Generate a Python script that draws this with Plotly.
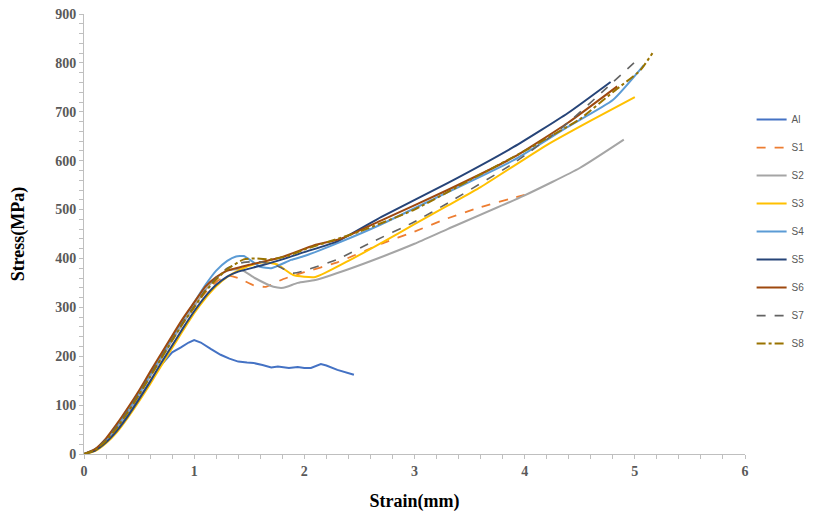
import plotly.graph_objects as go

names = ["Al", "S1", "S2", "S3", "S4", "S5", "S6", "S7", "S8"]
colors = ["#4472C4", "#ED7D31", "#A5A5A5", "#FFC000", "#5B9BD5", "#264478", "#9E480E", "#636363", "#997300"]
dashes = ["solid", "dash", "solid", "solid", "solid", "solid", "solid", "dash", "dashdot"]
widths = [2, 1.8, 2, 2, 2, 2, 2, 1.6, 2]

al_x = [0, 0.1, 0.2, 0.3, 0.4, 0.5, 0.6, 0.7, 0.8, 0.88, 0.95, 1.0, 1.06, 1.15, 1.24, 1.32, 1.40, 1.48, 1.54, 1.62, 1.70, 1.76, 1.81, 1.86, 1.94, 2.0, 2.06, 2.15, 2.2, 2.3, 2.45]
al_y = [0, 8, 26, 50, 80, 113, 148, 182, 208, 218, 228, 233, 228, 215, 203, 195, 189, 187, 186, 182, 177, 179, 178, 176, 178, 176, 176, 184, 181, 172, 162]

s1_x = [0, 0.1, 0.2, 0.3, 0.4, 0.5, 0.6, 0.7, 0.8, 0.9, 1.0, 1.1, 1.2, 1.3, 1.4, 1.54, 1.65, 1.81, 2.0, 2.3, 2.7, 3.0, 3.3, 3.6, 4.0]
s1_y = [0, 9, 28, 55, 87, 122, 160, 197, 233, 268, 300, 330, 352, 365, 360, 345, 342, 358, 372, 392, 430, 455, 482, 505, 530]

s2_x = [0, 0.1, 0.2, 0.3, 0.4, 0.5, 0.6, 0.7, 0.8, 0.9, 1.0, 1.1, 1.2, 1.3, 1.42, 1.55, 1.72, 1.81, 1.94, 2.1, 2.4, 2.7, 3.0, 3.3, 3.99, 4.5, 4.9]
s2_y = [0, 8, 27, 54, 86, 121, 158, 195, 232, 268, 302, 335, 360, 375, 378, 360, 342, 340, 350, 356, 378, 403, 430, 460, 528, 585, 643]

s3_x = [0, 0.1, 0.2, 0.3, 0.4, 0.5, 0.6, 0.7, 0.8, 0.9, 1.0, 1.1, 1.2, 1.3, 1.4, 1.5, 1.63, 1.75, 1.9, 2.1, 2.4, 2.7, 3.0, 3.3, 3.6, 4.2, 4.6, 5.0]
s3_y = [0, 6, 22, 45, 75, 108, 143, 180, 217, 253, 288, 318, 343, 362, 375, 385, 392, 388, 366, 362, 395, 432, 470, 508, 546, 632, 682, 730]

s4_x = [0, 0.1, 0.2, 0.3, 0.4, 0.5, 0.6, 0.7, 0.8, 0.9, 1.0, 1.1, 1.2, 1.3, 1.38, 1.45, 1.52, 1.6, 1.7, 1.88, 2.0, 2.33, 2.7, 3.15, 3.9, 4.39, 4.8, 5.08]
s4_y = [0, 10, 30, 58, 90, 125, 162, 200, 238, 275, 310, 345, 375, 395, 404, 405, 395, 383, 380, 397, 405, 434, 470, 519, 601, 669, 724, 795]

s5_x = [0, 0.1, 0.2, 0.3, 0.4, 0.5, 0.6, 0.7, 0.8, 0.9, 1.0, 1.1, 1.2, 1.3, 1.4, 1.6, 1.8, 2.0, 2.3, 2.7, 3.3, 3.9, 4.39, 4.78]
s5_y = [0, 7, 24, 48, 78, 112, 148, 186, 222, 258, 292, 322, 346, 363, 373, 385, 398, 413, 435, 485, 554, 628, 697, 761]

s6_x = [0, 0.1, 0.2, 0.3, 0.4, 0.5, 0.6, 0.7, 0.8, 0.9, 1.0, 1.1, 1.2, 1.3, 1.5, 1.8, 2.09, 2.33, 2.7, 3.3, 3.9, 4.39, 4.84]
s6_y = [0, 10, 32, 62, 95, 130, 168, 205, 242, 278, 310, 342, 362, 375, 387, 403, 427, 440, 478, 540, 607, 677, 752]

s7_x = [0, 0.1, 0.2, 0.3, 0.4, 0.5, 0.6, 0.7, 0.8, 0.9, 1.0, 1.1, 1.2, 1.3, 1.45, 1.6, 1.75, 1.9, 2.0, 2.3, 2.6, 3.0, 3.3, 3.9, 4.35, 4.75, 5.02]
s7_y = [0, 9, 30, 58, 90, 125, 162, 198, 235, 270, 303, 335, 360, 380, 392, 393, 385, 370, 375, 398, 432, 475, 513, 595, 669, 750, 806]

s8_x = [0, 0.1, 0.2, 0.3, 0.4, 0.5, 0.6, 0.7, 0.8, 0.9, 1.0, 1.1, 1.2, 1.3, 1.45, 1.55, 1.7, 1.85, 2.0, 2.5, 3.0, 3.5, 4.0, 4.5, 4.8, 5.05, 5.16]
s8_y = [0, 8, 27, 54, 86, 121, 158, 195, 232, 268, 300, 332, 357, 378, 398, 400, 398, 405, 418, 455, 500, 560, 620, 685, 740, 785, 820]

xs = [al_x, s1_x, s2_x, s3_x, s4_x, s5_x, s6_x, s7_x, s8_x]
ys = [al_y, s1_y, s2_y, s3_y, s4_y, s5_y, s6_y, s7_y, s8_y]

x_ticks = [0, 1, 2, 3, 4, 5, 6]
y_ticks = [0, 100, 200, 300, 400, 500, 600, 700, 800, 900]

fig = go.Figure()
for i, n in enumerate(names):
    fig.add_trace(go.Scatter(
        x=xs[i], y=ys[i], name=n, mode="lines", legendgroup=n,
        line=dict(color=colors[i], width=widths[i], dash=dashes[i],
                  shape="spline" if i > 0 else "linear", smoothing=0.5),
    ))

tickfont = dict(family="Liberation Serif", size=14, color="#595959", weight="bold")
axis_common = dict(showgrid=False, zeroline=False, showline=True, linecolor="#BFBFBF", linewidth=1,
                   ticks="outside", ticklen=4, tickcolor="#BFBFBF", tickfont=tickfont,
                   automargin=False, ticklabeloverflow="allow")

fig.update_xaxes(range=[0, 6], tickvals=x_ticks, ticktext=[str(v) for v in x_ticks],
                 minor=dict(dtick=0.2, ticks="outside", ticklen=4, tickcolor="#BFBFBF"),
                 title=dict(text="Strain(mm)", standoff=16,
                            font=dict(family="Liberation Serif", size=18, color="#000000", weight="bold")),
                 **axis_common)
fig.update_yaxes(range=[0, 900], tickvals=y_ticks, ticktext=[str(v) for v in y_ticks],
                 minor=dict(dtick=20, ticks="outside", ticklen=4, tickcolor="#BFBFBF"),
                 title=dict(text="Stress(MPa)", standoff=26,
                            font=dict(family="Liberation Serif", size=18, color="#000000", weight="bold")),
                 **axis_common)

fig.update_layout(
    width=834, height=519,
    margin=dict(l=76, r=97, t=6, b=73),
    plot_bgcolor="white", paper_bgcolor="white",
    legend=dict(x=1.01, xanchor="left", y=0.793, yanchor="top",
                font=dict(family="Liberation Sans", size=10, color="#595959"),
                tracegroupgap=9, bgcolor="rgba(0,0,0,0)"),
)

fig.write_html("out.html")
